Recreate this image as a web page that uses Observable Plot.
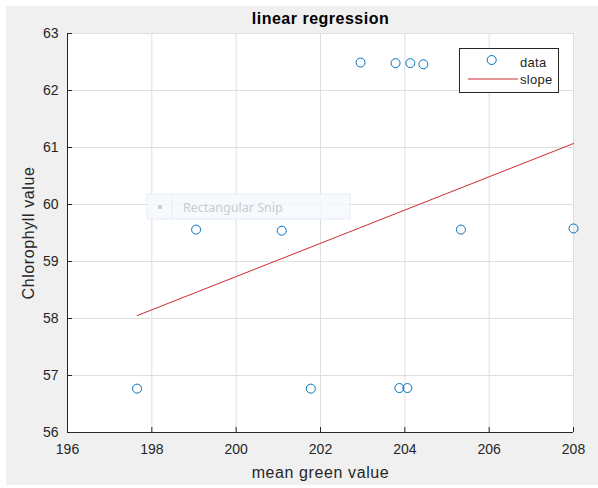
<!DOCTYPE html>
<html>
<head>
<meta charset="utf-8">
<script src="https://cdn.jsdelivr.net/npm/d3@7"></script>
<script src="https://cdn.jsdelivr.net/npm/@observablehq/plot@0.6"></script>
<style>
  html, body { margin: 0; padding: 0; background: #ffffff; }
  #chart { padding: 6px 0 0 6px; width: 592px; }
  #chart svg { display: block; }
</style>
</head>
<body>
<div id="chart"></div>
<script>
// Mean green channel value per sample and the measured chlorophyll value
const greenMean   = [197.65, 199.05, 201.08, 201.77, 202.95, 203.78, 204.13, 204.44, 203.87, 204.06, 205.33, 208.00];
const chlorophyll = [56.77, 59.56, 59.54, 56.77, 62.49, 62.48, 62.48, 62.46, 56.78, 56.78, 59.56, 59.58];

// End points of the fitted regression line
const slopeX = [197.65, 208.00];
const slopeY = [58.05, 61.07];

// Axis ticks
const xTicks = [196, 198, 200, 202, 204, 206, 208];
const yTicks = [56, 57, 58, 59, 60, 61, 62, 63];

const titleText  = "linear regression";
const xLabelText = "mean green value";
const yLabelText = "Chlorophyll value";
const legendLabels = ["data", "slope"];

const points = greenMean.map((x, i) => ({x, y: chlorophyll[i]}));
const fit = slopeX.map((x, i) => ({x, y: slopeY[i]}));

const ink = "#262626";
const dataColor = "#0072BD";
const fitColor = "#cc2a30";

const W = 592, H = 479;
const mL = 61, mR = 25, mT = 27, mB = 53;

const chart = Plot.plot({
  width: W,
  height: H,
  marginLeft: mL,
  marginRight: mR,
  marginTop: mT,
  marginBottom: mB,
  style: {
    background: "#f0f0f0",
    fontFamily: "'Liberation Sans', Arial, sans-serif",
    fontSize: "14px",
    color: ink
  },
  x: {domain: [196, 208]},
  y: {domain: [56, 63]},
  marks: [
    Plot.frame({fill: "white", stroke: null}),
    Plot.gridX(xTicks, {stroke: "#dedede", strokeOpacity: 1}),
    Plot.gridY(yTicks, {stroke: "#dedede", strokeOpacity: 1}),
    Plot.ruleX([196], {stroke: ink}),
    Plot.ruleY([56], {stroke: ink}),
    Plot.axisX(xTicks, {anchor: "bottom", tickSize: -5, tickPadding: 17, tickFormat: d3.format("d"), label: null, stroke: ink, fill: ink}),
    Plot.axisY(yTicks, {anchor: "left", tickSize: -5, tickPadding: 14, tickFormat: d3.format("d"), label: null, stroke: ink, fill: ink}),
    Plot.line(fit, {x: "x", y: "y", stroke: fitColor, strokeWidth: 1}),
    Plot.dot(points, {x: "x", y: "y", r: 4.5, stroke: dataColor, strokeWidth: 1, fill: "none"}),
    Plot.text([titleText], {text: d => d, frameAnchor: "top", dy: -15, lineAnchor: "middle",
      fontWeight: "bold", fontSize: 16, fill: "#000"}),
    Plot.text([xLabelText], {text: d => d, frameAnchor: "bottom", dy: 45, lineAnchor: "bottom",
      fontSize: 16, fill: ink}),
    Plot.text([yLabelText], {text: d => d, frameAnchor: "left", dx: -34, rotate: -90, lineAnchor: "bottom",
      textAnchor: "middle", fontSize: 16, fill: ink})
  ]
});

document.getElementById("chart").appendChild(chart);

const svg = d3.select(chart);

// Slightly looser letter spacing for the title and axis labels
svg.selectAll("text").each(function() {
  const t = this.textContent;
  if (t === titleText) d3.select(this).attr("letter-spacing", "0.5px");
  if (t === xLabelText || t === yLabelText) d3.select(this).attr("letter-spacing", "0.6px");
});

// Legend box in the upper right corner of the axes
const plotRight = W - mR;
const lg = svg.append("g")
  .attr("font-family", "'Liberation Sans', Arial, sans-serif")
  .attr("font-size", 13)
  .attr("text-anchor", "start");
const lx = plotRight - 15 - 99, ly = mT + 15;
lg.append("rect").attr("x", lx + 0.5).attr("y", ly + 0.5).attr("width", 99).attr("height", 44)
  .attr("fill", "white").attr("stroke", ink).attr("stroke-width", 1);
lg.append("circle").attr("cx", lx + 32.7).attr("cy", ly + 12).attr("r", 4.5)
  .attr("fill", "none").attr("stroke", dataColor);
lg.append("line").attr("x1", lx + 9).attr("x2", lx + 59).attr("y1", ly + 31).attr("y2", ly + 31)
  .attr("stroke", fitColor);
lg.append("text").attr("x", lx + 61).attr("y", ly + 18.5).attr("fill", ink).attr("letter-spacing", "0.3px").text(legendLabels[0]);
lg.append("text").attr("x", lx + 61).attr("y", ly + 36).attr("fill", ink).attr("letter-spacing", "0.3px").text(legendLabels[1]);

// Faint screen-capture toolbar hovering over the axes
const snip = svg.append("g").attr("pointer-events", "none").attr("text-anchor", "start");
snip.append("rect").attr("x", 141).attr("y", 188).attr("width", 203).attr("height", 25)
  .attr("fill", "#f6f9fd").attr("fill-opacity", 0.85).attr("stroke", "#e6edf5");
snip.append("line").attr("x1", 166).attr("x2", 166).attr("y1", 188).attr("y2", 213).attr("stroke", "#e6edf5");
snip.append("circle").attr("cx", 154).attr("cy", 201).attr("r", 2.2).attr("fill", "#c9ccd0");
snip.append("text").attr("x", 177).attr("y", 205.5).attr("font-family", "'Noto Sans', sans-serif")
  .attr("font-size", 12.5).attr("fill", "#c6cbd2").text("Rectangular Snip");
</script>
</body>
</html>
